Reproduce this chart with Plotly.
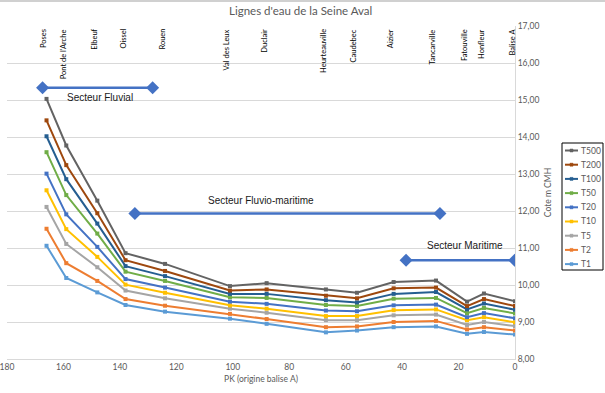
import plotly.graph_objects as go

# Stations and PK (origine balise A)
stations = ["Poses", "Pont de l'Arche", "Elbeuf", "Oissel", "Rouen", "Val des Leux", "Duclair",
            "Heurteauville", "Caudebec", "Aizier", "Tancarville", "Fatouville", "Honfleur", "Balise A"]
pk = [166, 159, 148, 138, 124, 101, 88, 67, 56, 43, 28, 17, 11, 0]

T500 = [15.03, 13.77, 12.28, 10.86, 10.57, 9.97, 10.05, 9.88, 9.79, 10.08, 10.12, 9.55, 9.77, 9.56]
T200 = [14.45, 13.24, 11.94, 10.67, 10.38, 9.85, 9.88, 9.71, 9.64, 9.91, 9.93, 9.43, 9.62, 9.43]
T100 = [14.02, 12.86, 11.66, 10.51, 10.24, 9.76, 9.76, 9.59, 9.53, 9.76, 9.81, 9.34, 9.50, 9.33]
T50 = [13.59, 12.43, 11.39, 10.36, 10.11, 9.67, 9.65, 9.46, 9.43, 9.63, 9.65, 9.24, 9.38, 9.23]
T20 = [13.01, 11.91, 11.03, 10.16, 9.93, 9.55, 9.49, 9.31, 9.29, 9.45, 9.47, 9.13, 9.24, 9.10]
T10 = [12.56, 11.51, 10.76, 10.01, 9.79, 9.45, 9.36, 9.16, 9.16, 9.32, 9.34, 9.05, 9.13, 8.99]
T5 = [12.11, 11.11, 10.48, 9.85, 9.64, 9.36, 9.25, 9.05, 9.05, 9.18, 9.20, 8.92, 9.00, 8.89]
T2 = [11.52, 10.59, 10.11, 9.62, 9.44, 9.22, 9.08, 8.86, 8.88, 9.00, 9.03, 8.80, 8.86, 8.77]
T1 = [11.06, 10.19, 9.80, 9.46, 9.28, 9.09, 8.95, 8.72, 8.77, 8.86, 8.88, 8.68, 8.73, 8.66]

series_names = ["T500", "T200", "T100", "T50", "T20", "T10", "T5", "T2", "T1"]
series_values = [T500, T200, T100, T50, T20, T10, T5, T2, T1]
series_colors = ["#636363", "#9E480E", "#255E91", "#70AD47", "#4472C4", "#FFC000", "#A5A5A5", "#ED7D31", "#5B9BD5"]

# Sector bars
sector_names = ["Secteur Fluvial", "Secteur Fluvio-maritime", "Secteur Maritime"]
sector_start = [167.4, 134.7, 38.6]
sector_end = [128.4, 26.6, 0.1]
sector_level = [15.33, 11.93, 10.67]
sector_label_pk = [147, 90, 17.7]
sector_label_level = [15.06, 12.28, 11.07]

W, H = 605, 393
ML, MR, MT, MB = 7, 90, 26, 34
PW, PH = W - ML - MR, H - MT - MB


def px_x(p):
    return (p - ML) / PW


def px_y(p):
    return (H - MB - p) / PH


fig = go.Figure()

for name, vals, col in zip(series_names[::-1], series_values[::-1], series_colors[::-1]):
    fig.add_trace(go.Scatter(
        x=pk, y=vals, name=name, mode="lines+markers", showlegend=False,
        line=dict(color=col, width=2),
        marker=dict(symbol="square", size=4, color=col),
    ))

for i in range(len(sector_names)):
    fig.add_trace(go.Scatter(
        x=[sector_start[i], sector_end[i]], y=[sector_level[i], sector_level[i]],
        mode="lines+markers", showlegend=False, hoverinfo="skip",
        line=dict(color="#4472C4", width=2.5),
        marker=dict(symbol="diamond", size=10, color="#4472C4"),
    ))
    fig.add_annotation(x=sector_label_pk[i], y=sector_label_level[i], text=sector_names[i],
                       showarrow=False, xanchor="center", yanchor="middle",
                       font=dict(family="Liberation Sans, Arial", size=10, color="#1a1a1a"))

for name, x in zip(stations, pk):
    fig.add_annotation(x=x, y=17, text=name, textangle=-90, showarrow=False,
                       xanchor="center", yanchor="top", xshift=-3, yshift=-1,
                       font=dict(family="Lato, sans-serif", size=7.5, color="#000000"))

# Custom legend (box + entries) in paper coordinates
shapes = [
    dict(type="line", xref="paper", yref="paper", x0=px_x(0), x1=px_x(W),
         y0=px_y(1), y1=px_y(1), line=dict(color="#d0d0d0", width=2)),
    dict(type="rect", xref="paper", yref="paper", x0=px_x(562), x1=px_x(603),
         y0=px_y(270), y1=px_y(143), line=dict(color="#000000", width=1), fillcolor="white"),
]
for k, (name, col) in enumerate(zip(series_names, series_colors)):
    yy = 150.5 + k * 14.2
    shapes.append(dict(type="line", xref="paper", yref="paper", x0=px_x(565), x1=px_x(578),
                       y0=px_y(yy), y1=px_y(yy), line=dict(color=col, width=2)))
    shapes.append(dict(type="rect", xref="paper", yref="paper", x0=px_x(570), x1=px_x(573),
                       y0=px_y(yy + 1.5), y1=px_y(yy - 1.5), line=dict(color=col, width=0.5),
                       fillcolor=col))
    fig.add_annotation(xref="paper", yref="paper", x=px_x(579), y=px_y(yy), text=name,
                       showarrow=False, xanchor="left", yanchor="middle",
                       font=dict(family="Lato, sans-serif", size=8.5, color="#595959"))

fig.update_layout(
    width=W, height=H,
    margin=dict(l=ML, r=MR, t=MT, b=MB, autoexpand=False),
    paper_bgcolor="white", plot_bgcolor="white",
    separators=", ",
    showlegend=False,
    title=dict(text="Lignes d'eau de la Seine Aval", x=0.497, xanchor="center",
               y=1 - 11 / H, yanchor="middle", yref="container",
               font=dict(family="Lato, sans-serif", size=11.5, color="#595959")),
    font=dict(family="Lato, sans-serif", size=9, color="#595959"),
    xaxis=dict(range=[180, 0], autorange=False, dtick=20, tick0=0, automargin=False,
               showgrid=False, zeroline=False, showline=True, linecolor="#d9d9d9", linewidth=1,
               ticks="", ticklabeloverflow="allow", tickfont=dict(size=8.5, color="#595959"),
               title=dict(text="PK (origine balise A)", font=dict(size=8.5, color="#595959"), standoff=4)),
    yaxis=dict(range=[8, 17], autorange=False, dtick=1, tick0=8, side="right", automargin=False,
               tickformat=".2f", showgrid=True, gridcolor="#d9d9d9", gridwidth=1,
               zeroline=False, showline=True, linecolor="#d9d9d9", linewidth=1,
               ticks="", ticklabeloverflow="allow", tickfont=dict(size=8.5, color="#595959"),
               title=dict(text="Cote m CMH", font=dict(size=8.5, color="#595959"), standoff=6)),
    shapes=shapes,
)

fig.write_html("out.html", config={"displayModeBar": False},
               post_script="document.body.style.margin='0';document.body.style.overflow='hidden';")
